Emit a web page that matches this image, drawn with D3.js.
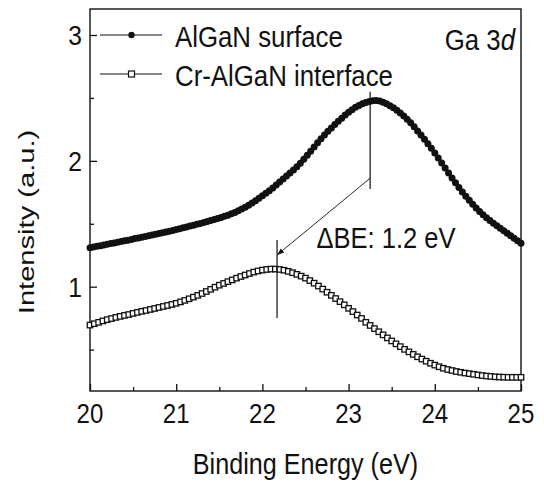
<!DOCTYPE html>
<html><head><meta charset="utf-8">
<script src="https://cdn.jsdelivr.net/npm/d3@7"></script>
<style>html,body{margin:0;padding:0;background:#fff;}svg{display:block;}</style>
</head><body>
<svg id="chart" width="544" height="482"></svg>
<script>
// ---- data ----
const surfaceEnergy = [20.00,20.04,20.08,20.12,20.16,20.20,20.24,20.28,20.32,20.36,20.40,20.44,20.48,20.52,20.56,20.60,20.64,20.68,20.72,20.76,20.80,20.84,20.88,20.92,20.96,
21.00,21.04,21.08,21.12,21.16,21.20,21.24,21.28,21.32,21.36,21.40,21.44,21.48,21.52,21.56,21.60,21.64,21.68,21.72,21.76,21.80,21.84,21.88,21.92,21.96,
22.00,22.04,22.08,22.12,22.16,22.20,22.24,22.28,22.32,22.36,22.40,22.44,22.48,22.52,22.56,22.60,22.64,22.68,22.72,22.76,22.80,22.84,22.88,22.92,22.96,
23.00,23.04,23.08,23.12,23.16,23.20,23.24,23.28,23.32,23.36,23.40,23.44,23.48,23.52,23.56,23.60,23.64,23.68,23.72,23.76,23.80,23.84,23.88,23.92,23.96,
24.00,24.04,24.08,24.12,24.16,24.20,24.24,24.28,24.32,24.36,24.40,24.44,24.48,24.52,24.56,24.60,24.64,24.68,24.72,24.76,24.80,24.84,24.88,24.92,24.96,25.00];
const surfaceIntensity = [1.310,1.315,1.321,1.326,1.332,1.337,1.343,1.348,1.354,1.359,1.365,1.370,1.376,1.382,1.387,1.393,1.398,1.404,1.410,1.416,1.422,1.428,1.434,1.440,1.447,
1.454,1.461,1.468,1.475,1.482,1.489,1.496,1.503,1.511,1.518,1.526,1.534,1.542,1.550,1.559,1.568,1.579,1.590,1.603,1.617,1.632,1.648,1.665,1.683,1.702,
1.722,1.742,1.763,1.785,1.808,1.831,1.855,1.879,1.903,1.928,1.954,1.981,2.012,2.044,2.077,2.110,2.143,2.175,2.206,2.235,2.262,2.288,2.314,2.339,2.364,
2.387,2.407,2.425,2.440,2.453,2.464,2.472,2.478,2.480,2.476,2.466,2.453,2.438,2.421,2.402,2.380,2.356,2.330,2.302,2.271,2.238,2.205,2.171,2.136,2.100,
2.062,2.023,1.983,1.943,1.903,1.864,1.826,1.789,1.753,1.719,1.686,1.655,1.626,1.598,1.572,1.548,1.526,1.505,1.485,1.465,1.445,1.425,1.405,1.385,1.365,1.345];

const interfaceEnergy = [20.00,20.05,20.10,20.15,20.20,20.25,20.30,20.35,20.40,20.45,20.50,20.55,20.60,20.65,20.70,20.75,20.80,20.85,20.90,20.95,
21.00,21.05,21.10,21.15,21.20,21.25,21.30,21.35,21.40,21.45,21.50,21.55,21.60,21.65,21.70,21.75,21.80,21.85,21.90,21.95,
22.00,22.05,22.10,22.15,22.20,22.25,22.30,22.35,22.40,22.45,22.50,22.55,22.60,22.65,22.70,22.75,22.80,22.85,22.90,22.95,
23.00,23.05,23.10,23.15,23.20,23.25,23.30,23.35,23.40,23.45,23.50,23.55,23.60,23.65,23.70,23.75,23.80,23.85,23.90,23.95,
24.00,24.05,24.10,24.15,24.20,24.25,24.30,24.35,24.40,24.45,24.50,24.55,24.60,24.65,24.70,24.75,24.80,24.85,24.90,24.95,25.00];
const interfaceIntensity = [0.695,0.706,0.717,0.728,0.738,0.747,0.756,0.764,0.772,0.779,0.788,0.796,0.804,0.811,0.819,0.827,0.835,0.843,0.851,0.859,
0.868,0.879,0.891,0.904,0.917,0.931,0.946,0.962,0.979,0.996,1.012,1.026,1.040,1.054,1.068,1.081,1.093,1.105,1.116,1.125,
1.132,1.137,1.140,1.140,1.137,1.131,1.122,1.111,1.098,1.084,1.068,1.049,1.028,1.005,0.981,0.956,0.931,0.906,0.881,0.856,
0.828,0.802,0.775,0.748,0.717,0.692,0.667,0.642,0.617,0.593,0.569,0.546,0.524,0.502,0.482,0.462,0.443,0.425,0.408,0.392,
0.377,0.364,0.352,0.342,0.334,0.326,0.320,0.314,0.309,0.304,0.299,0.294,0.290,0.287,0.284,0.282,0.281,0.280,0.280,0.280,0.280];

const xTicks = [20,21,22,23,24,25];
const xMinorTicks = [20.5,21.5,22.5,23.5,24.5];
const yTicks = [1,2,3];
const yMinorTicks = [0.5,1.5,2.5];
const seriesNames = ["AlGaN surface","Cr-AlGaN interface"];
// annotation: peak markers (BE) and arrow
const peakSurface = {x:23.25, y0:1.777, y1:2.55};
const peakInterface = {x:22.17, y0:0.751, y1:1.371};
const arrowFrom = {x:23.25, y:1.862};
const arrowTo = {x:22.17, y:1.252};
const deltaLabel = "\u0394BE: 1.2 eV";

// ---- layout ----
const L = 90, R = 521, T = 9, B = 391;
const svg = d3.select("#chart");
const x = d3.scaleLinear().domain([20,25]).range([L,R]);
const y = d3.scaleLinear().domain([0.1712,3.2066]).range([B,T]);
const font = "'Liberation Sans', Arial, Helvetica, sans-serif";
const ink = "#111";

function addText(str, px, py, size, sx, anchor){
  return svg.append("text")
    .attr("transform", `translate(${px},${py}) scale(${sx},1)`)
    .attr("text-anchor", anchor||"start")
    .attr("font-family", font).attr("font-size", size).attr("fill", ink)
    .text(str);
}

// axes (ticks inward)
const gx = svg.append("g").attr("transform",`translate(0,${B})`)
  .call(d3.axisTop(x).tickValues(xTicks).tickSize(7).tickFormat(""));
const gxm = svg.append("g").attr("transform",`translate(0,${B})`)
  .call(d3.axisTop(x).tickValues(xMinorTicks).tickSize(4).tickFormat(""));
const gy = svg.append("g").attr("transform",`translate(${L},0)`)
  .call(d3.axisRight(y).tickValues(yTicks).tickSize(7).tickFormat(""));
const gym = svg.append("g").attr("transform",`translate(${L},0)`)
  .call(d3.axisRight(y).tickValues(yMinorTicks.filter(v=>v>y.domain()[0])).tickSize(4).tickFormat(""));
[gx,gxm,gy,gym].forEach(g=>{
  g.select(".domain").remove();
  g.selectAll("line").attr("stroke",ink).attr("stroke-width",1.3);
});
// frame
svg.append("rect").attr("x",L).attr("y",T).attr("width",R-L).attr("height",B-T)
  .attr("fill","none").attr("stroke",ink).attr("stroke-width",1.4);

// tick labels
xTicks.forEach(v=>addText(String(v), x(v), 423, 28, 0.86, "middle"));
yTicks.forEach(v=>addText(String(v), 82, y(v)+10, 28, 0.88, "end"));

// axis titles
addText("Binding Energy (eV)", (L+R)/2, 474, 30, 0.84, "middle");
svg.append("text")
  .attr("transform","translate(33.5,222) rotate(-90) scale(1.12,0.82)")
  .attr("text-anchor","middle").attr("font-family",font).attr("font-size",26).attr("fill",ink)
  .text("Intensity (a.u.)");

// series
const surf = surfaceEnergy.map((e,i)=>({e, v:surfaceIntensity[i]}));
const intf = interfaceEnergy.map((e,i)=>({e, v:interfaceIntensity[i]}));
const sq = 5.4;
svg.append("g").selectAll("rect").data(intf).join("rect")
  .attr("x",d=>x(d.e)-sq/2).attr("y",d=>y(d.v)-sq/2).attr("width",sq).attr("height",sq)
  .attr("fill","#fff").attr("stroke",ink).attr("stroke-width",1.3);
svg.append("g").selectAll("circle").data(surf).join("circle")
  .attr("cx",d=>x(d.e)).attr("cy",d=>y(d.v)).attr("r",3.5).attr("fill",ink);

// annotation
[peakSurface, peakInterface].forEach(p=>{
  svg.append("line").attr("x1",x(p.x)).attr("x2",x(p.x)).attr("y1",y(p.y0)).attr("y2",y(p.y1))
    .attr("stroke",ink).attr("stroke-width",1.2);
});
const ax1 = x(arrowFrom.x), ay1 = y(arrowFrom.y), ax2 = x(arrowTo.x), ay2 = y(arrowTo.y);
svg.append("line").attr("x1",ax1).attr("y1",ay1).attr("x2",ax2).attr("y2",ay2)
  .attr("stroke",ink).attr("stroke-width",0.9);
{
  const ang = Math.atan2(ay2-ay1, ax2-ax1), len = 7, w = 2.6;
  const bx = ax2 - len*Math.cos(ang), by = ay2 - len*Math.sin(ang);
  const nx = -Math.sin(ang)*w, ny = Math.cos(ang)*w;
  svg.append("path").attr("d",`M${ax2},${ay2}L${bx+nx},${by+ny}L${bx-nx},${by-ny}Z`).attr("fill",ink);
}
addText(deltaLabel, 316.5, 248, 29, 0.88, "start");

// legend
const legY = [35, 74];
legY.forEach((ly,i)=>{
  svg.append("line").attr("x1",100).attr("x2",162).attr("y1",ly).attr("y2",ly)
    .attr("stroke",ink).attr("stroke-width",1.2);
  addText(seriesNames[i], 175, ly+11.5, 29, 0.89, "start");
});
svg.append("circle").attr("cx",131.5).attr("cy",legY[0]).attr("r",3.2).attr("fill",ink);
svg.append("rect").attr("x",131.5-3).attr("y",legY[1]-3).attr("width",6).attr("height",6)
  .attr("fill","#fff").attr("stroke",ink).attr("stroke-width",1.2);

// panel label
const gl = svg.append("text")
  .attr("transform","translate(515,50) scale(0.86,1)")
  .attr("text-anchor","end").attr("font-family",font).attr("font-size",30).attr("fill",ink);
gl.append("tspan").text("Ga 3");
gl.append("tspan").attr("font-style","italic").text("d");
</script>
</body></html>
